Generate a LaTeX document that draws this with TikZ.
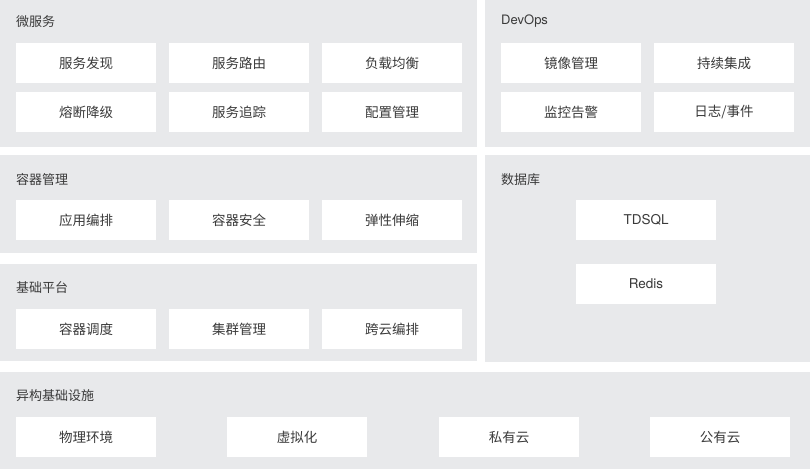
\documentclass[tikz,border=0pt]{standalone}
\usepackage{fontspec}
\newfontfamily\cjk{Noto Sans CJK SC}
\newfontfamily\lat{TeX Gyre Heros}
\definecolor{panel}{HTML}{E8E9EB}
\definecolor{txt}{HTML}{3A3A3A}
\begin{document}
\begin{tikzpicture}[x=1pt,y=-1pt,
  panelbox/.style={fill=panel,draw=none},
  itembox/.style={fill=white,draw=none,minimum width=140pt,minimum height=40pt,inner sep=0pt,
    font=\cjk\fontsize{13.5}{15}\selectfont,text=txt},
  title/.style={anchor=west,inner sep=0pt,font=\cjk\fontsize{13}{15}\selectfont,text=txt}]
\useasboundingbox[fill=white] (0,0) rectangle (810,469);
% panels
\fill[panelbox] (0,0) rectangle (477,146.5);
\fill[panelbox] (485,0) rectangle (810,146.5);
\fill[panelbox] (0,155) rectangle (477,252.5);
\fill[panelbox] (0,264) rectangle (477,360.5);
\fill[panelbox] (485,155) rectangle (810,361.5);
\fill[panelbox] (0,371.5) rectangle (810,469);
% titles
\node[title] (t1) at (16,22) {微服务};
\node[title,font=\lat\fontsize{13}{15}\selectfont] (t2) at (501,21.5) {DevOps};
\node[title] (t3) at (16,180) {容器管理};
\node[title] (t4) at (501,180) {数据库};
\node[title] (t5) at (16,288) {基础平台};
\node[title] (t6) at (16,396) {异构基础设施};
% microservices
\node[itembox] (a1) at (86,63) {服务发现};
\node[itembox] (a2) at (239,63) {服务路由};
\node[itembox] (a3) at (392,63) {负载均衡};
\node[itembox] (a4) at (86,112) {熔断降级};
\node[itembox] (a5) at (239,112) {服务追踪};
\node[itembox] (a6) at (392,112) {配置管理};
% devops
\node[itembox] (d1) at (571,63) {镜像管理};
\node[itembox] (d2) at (724,63) {持续集成};
\node[itembox] (d3) at (571,112) {监控告警};
\node[itembox] (d4) at (724,112) {日志/事件};
% container
\node[itembox] (c1) at (86,220) {应用编排};
\node[itembox] (c2) at (239,220) {容器安全};
\node[itembox] (c3) at (392,220) {弹性伸缩};
% database
\node[itembox,font=\lat\fontsize{13.5}{15}\selectfont] (db1) at (646,220) {TDSQL};
\node[itembox,font=\lat\fontsize{13.5}{15}\selectfont] (db2) at (646,284) {Redis};
% platform
\node[itembox] (p1) at (86,329) {容器调度};
\node[itembox] (p2) at (239,329) {集群管理};
\node[itembox] (p3) at (392,329) {跨云编排};
% infra
\node[itembox] (i1) at (86,437) {物理环境};
\node[itembox] (i2) at (297,437) {虚拟化};
\node[itembox] (i3) at (509,437) {私有云};
\node[itembox] (i4) at (720,437) {公有云};
\end{tikzpicture}
\end{document}
